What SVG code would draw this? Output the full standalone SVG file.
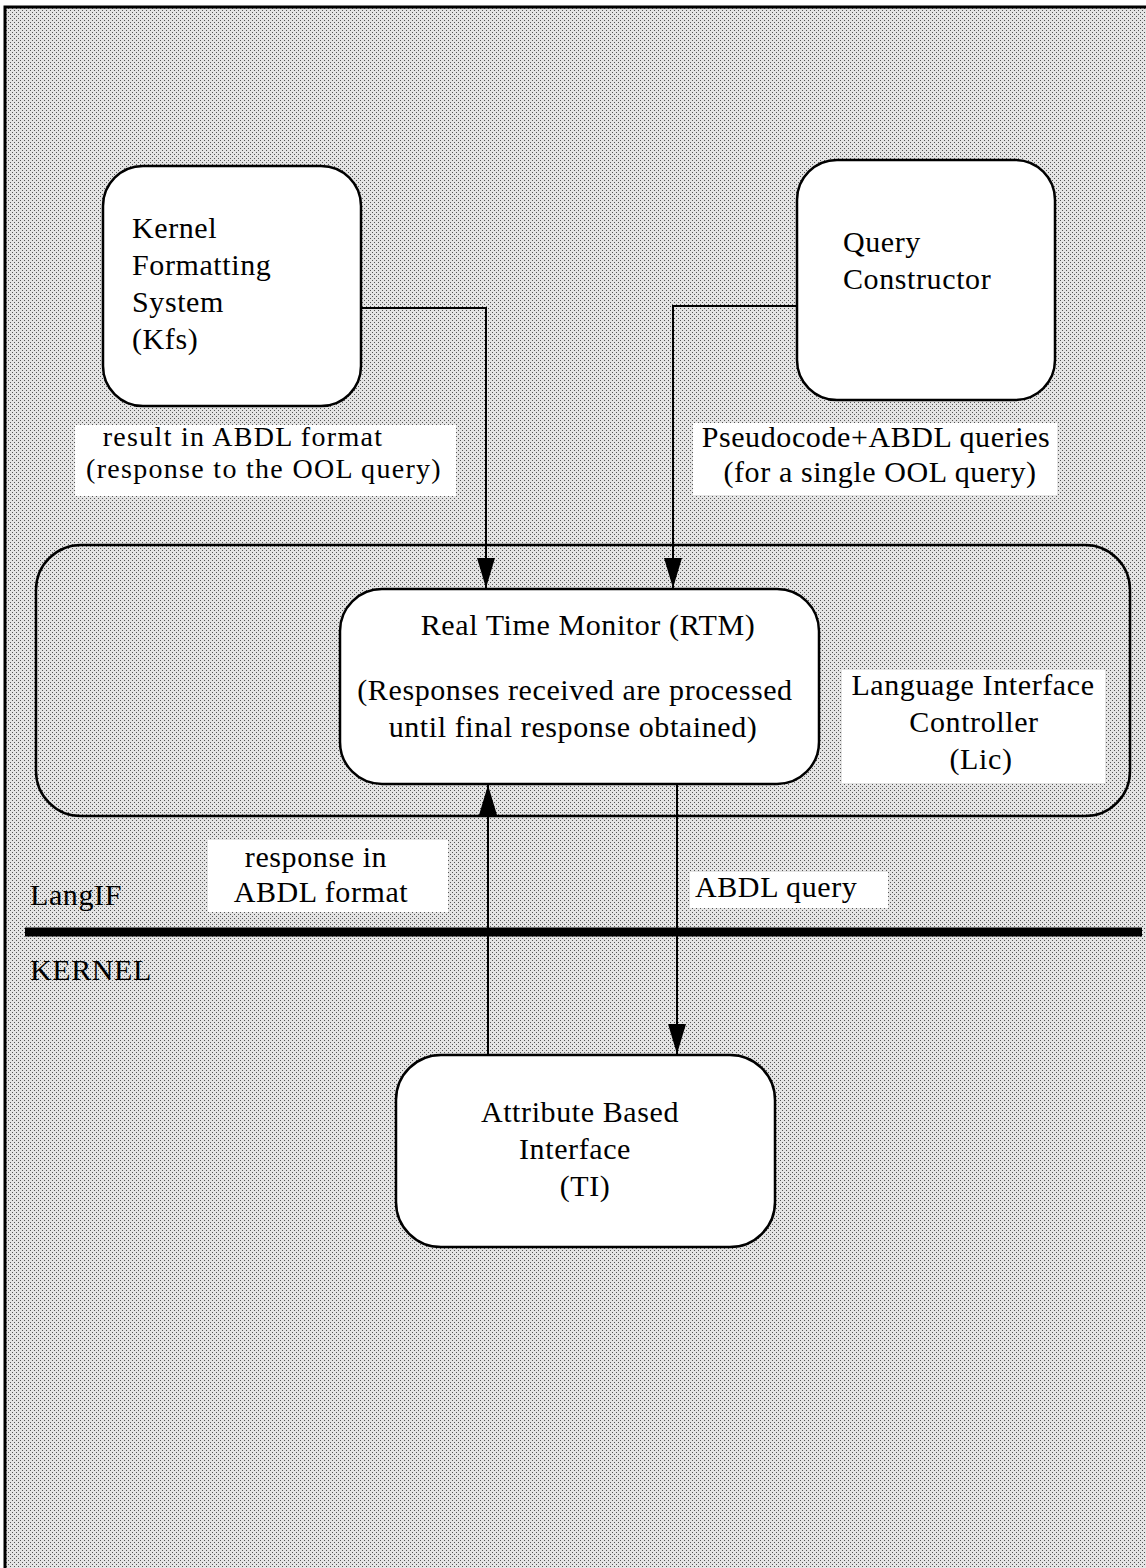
<svg xmlns="http://www.w3.org/2000/svg" width="1146" height="1568" viewBox="0 0 1146 1568">
  <defs>
    <!-- halftone shading for the page background -->
    <pattern id="dots" width="4" height="4" patternUnits="userSpaceOnUse">
      <rect width="4" height="4" fill="#e4e4e4"/>
      <rect x="0" y="0" width="1" height="1" fill="#555"/>
      <rect x="2" y="2" width="1" height="1" fill="#555"/>
    </pattern>
    <!-- slim filled arrowhead, tip at the end of the path -->
    <marker id="arrow" markerUnits="userSpaceOnUse" markerWidth="30" markerHeight="20" viewBox="0 0 30 20" refX="30" refY="10" orient="auto">
      <path d="M0,1 L30,10 L0,19 Z" fill="#000"/>
    </marker>
    <style>
      text { font-family: "Liberation Serif", "Times New Roman", serif; font-size: 30px; letter-spacing: 0.6px; fill: #000; }
      text.tight { font-size: 28px; letter-spacing: 1.3px; }
      .node { fill: #fff; stroke: #000; stroke-width: 2.5; }
      .group { fill: none; stroke: #000; stroke-width: 2.5; }
      .wire { fill: none; stroke: #000; stroke-width: 2; }
      .labelbg { fill: #fff; }
      .mid { text-anchor: middle; }
    </style>
  </defs>

  <!-- page background and frame -->
  <rect x="0" y="0" width="1146" height="1568" fill="#fff"/>
  <rect x="6" y="8" width="1140" height="1560" fill="url(#dots)"/>
  <path d="M5,1568 L5,7 L1146,7" fill="none" stroke="#000" stroke-width="3"/>

  <!-- layer divider -->
  <g id="divider">
    <line x1="25" y1="932" x2="1142" y2="932" stroke="#000" stroke-width="9"/>
    <text x="30" y="905">LangIF</text>
    <text x="30" y="980">KERNEL</text>
  </g>

  <!-- Language Interface Controller container -->
  <g id="lic">
    <rect class="group" x="36" y="545" width="1094" height="271" rx="45" ry="45"/>
    <rect class="labelbg" x="842" y="670" width="263" height="113"/>
    <text class="mid" x="973" y="695">Language Interface</text>
    <text class="mid" x="974" y="732">Controller</text>
    <text class="mid" x="981" y="769">(Lic)</text>
  </g>

  <g id="kfs">
    <rect class="node" x="103" y="166" width="258" height="240" rx="40" ry="40"/>
    <text x="132" y="238">Kernel</text>
    <text x="132" y="275">Formatting</text>
    <text x="132" y="312">System</text>
    <text x="132" y="349">(Kfs)</text>
  </g>

  <g id="query-constructor">
    <rect class="node" x="797" y="160" width="258" height="240" rx="40" ry="40"/>
    <text x="843" y="252">Query</text>
    <text x="843" y="289">Constructor</text>
  </g>

  <g id="rtm">
    <rect class="node" x="340" y="589" width="479" height="195" rx="42" ry="42"/>
    <text class="mid" x="588" y="635">Real Time Monitor (RTM)</text>
    <text class="mid" x="575" y="700">(Responses received are processed</text>
    <text class="mid" x="573" y="737">until final response obtained)</text>
  </g>

  <g id="abi">
    <rect class="node" x="396" y="1055" width="379" height="192" rx="45" ry="45"/>
    <text class="mid" x="580" y="1122">Attribute Based</text>
    <text class="mid" x="575" y="1159">Interface</text>
    <text class="mid" x="585" y="1196">(TI)</text>
  </g>

  <!-- connectors -->
  <g id="connectors">
    <path class="wire" d="M361,308 L486,308 L486,588" marker-end="url(#arrow)"/>
    <path class="wire" d="M797,306 L673,306 L673,588" marker-end="url(#arrow)"/>
    <path class="wire" d="M488,1055 L488,785" marker-end="url(#arrow)"/>
    <path class="wire" d="M677,784 L677,1054" marker-end="url(#arrow)"/>
  </g>

  <!-- connector labels -->
  <g id="labels">
    <rect class="labelbg" x="75" y="425" width="381" height="71"/>
    <text class="mid tight" x="243" y="446">result in ABDL format</text>
    <text class="mid tight" x="264" y="478">(response to the OOL query)</text>

    <rect class="labelbg" x="693" y="423" width="364" height="72"/>
    <text class="mid" x="876" y="447">Pseudocode+ABDL queries</text>
    <text class="mid" x="880" y="482">(for a single OOL query)</text>

    <rect class="labelbg" x="208" y="840" width="240" height="72"/>
    <text class="mid" x="316" y="867">response in</text>
    <text class="mid" x="321" y="902">ABDL format</text>

    <rect class="labelbg" x="690" y="872" width="198" height="36"/>
    <text x="695" y="897">ABDL query</text>
  </g>
</svg>
